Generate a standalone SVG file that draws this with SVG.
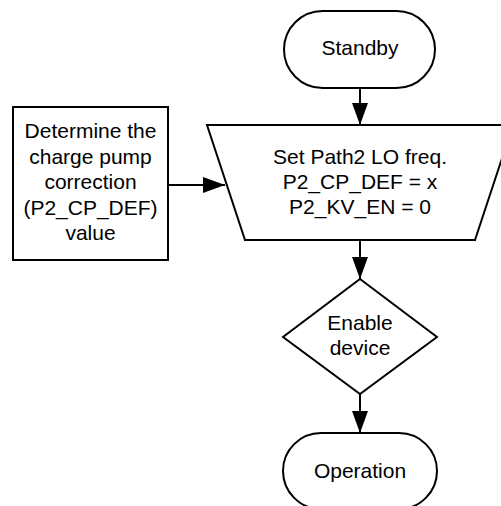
<svg xmlns="http://www.w3.org/2000/svg" width="501" height="506" viewBox="0 0 501 506">
<style>
.s{fill:#fff;stroke:#000;stroke-width:2}
.c{fill:none;stroke:#000;stroke-width:2}
text{font-family:"Liberation Sans",Arial,sans-serif;font-size:21px;fill:#000;text-anchor:middle}
</style>
<defs>
<marker id="ah" markerUnits="userSpaceOnUse" markerWidth="24" markerHeight="18" refX="22" refY="8" orient="auto">
<path d="M0,0 L22,8 L0,16 Z" fill="#000"/>
</marker>
</defs>
<rect width="501" height="506" fill="#fff"/>
<g id="connectors">
<line class="c" x1="360" y1="88" x2="360" y2="125" marker-end="url(#ah)"/>
<line class="c" x1="168" y1="185" x2="225" y2="185" marker-end="url(#ah)"/>
<line class="c" x1="360" y1="240" x2="360" y2="279" marker-end="url(#ah)"/>
<line class="c" x1="360" y1="394" x2="360" y2="433" marker-end="url(#ah)"/>
</g>
<g id="standby">
<rect class="s" x="284" y="11" width="151" height="77" rx="38.5" ry="38.5"/>
<text x="360" y="55">Standby</text>
</g>
<g id="determine">
<rect class="s" x="13" y="107" width="155" height="153"/>
<text x="90.5" y="138">Determine the</text>
<text x="90.5" y="163.5">charge pump</text>
<text x="90.5" y="189">correction</text>
<text x="90.5" y="214.5">(P2_CP_DEF)</text>
<text x="90.5" y="240">value</text>
</g>
<g id="setpath">
<polygon class="s" points="207,125 513,125 475,240 245,240"/>
<text x="360" y="164">Set Path2 LO freq.</text>
<text x="360" y="189">P2_CP_DEF = x</text>
<text x="360" y="214">P2_KV_EN = 0</text>
</g>
<g id="enable">
<polygon class="s" points="360,279 437,337 360,394 283,337"/>
<text x="360" y="330">Enable</text>
<text x="360" y="355">device</text>
</g>
<g id="operation">
<rect class="s" x="283" y="433" width="154" height="76" rx="38" ry="38"/>
<text x="360" y="478">Operation</text>
</g>
</svg>
